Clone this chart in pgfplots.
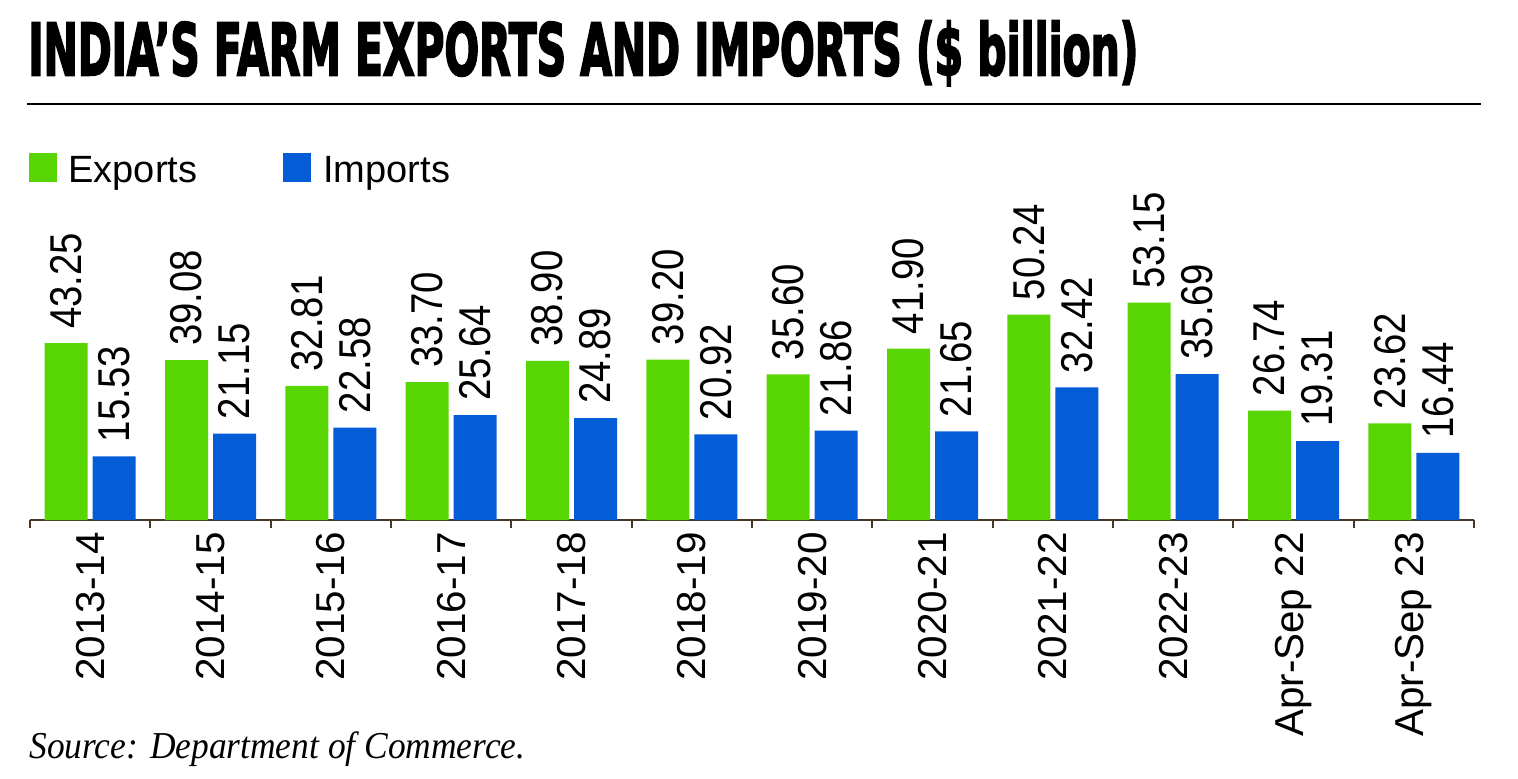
\documentclass[border=0pt]{standalone}
\usepackage{pgfplots}
\pgfplotsset{compat=1.18}
\usepackage{fontspec}
\usepackage{graphicx}
\setmainfont{Liberation Sans}
\newfontfamily\titlefont{DejaVu Sans}[BoldFeatures={FakeBold=3.5}]
\newfontfamily\lblfont{Liberation Sans}[FakeStretch=0.86]
\newfontfamily\srcfont{Liberation Serif}
\definecolor{exgreen}{RGB}{88,214,4}
\definecolor{imblue}{RGB}{4,92,214}
\definecolor{axisgray}{RGB}{70,55,40}
\pgfplotsset{/pgf/number format/assume math mode=true}
\begin{document}
\begin{tikzpicture}[x=1pt,y=1pt]
\useasboundingbox (0,0) rectangle (759,-389);
% title
\node[anchor=base west, inner sep=0pt] at (14,-37.5) {\resizebox{555pt}{\height}{\fontsize{35.7}{40}\selectfont\titlefont\bfseries INDIA’S FARM EXPORTS AND IMPORTS (\$ billion)}};
\draw[line width=1.3pt, black] (13.5,-52) -- (740.5,-52);
% legend
\fill[exgreen] (14.5,-76.5) rectangle (28.5,-91);
\node[anchor=base west, inner sep=0pt] at (34,-91) {\fontsize{19}{22}\selectfont Exports};
\fill[imblue] (141.5,-76.5) rectangle (155.5,-91);
\node[anchor=base west, inner sep=0pt] at (161.5,-91) {\fontsize{19}{22}\selectfont Imports};
% source
\node[anchor=base west, inner sep=0pt] at (14.5,-379) {\resizebox{248pt}{\height}{\fontsize{19}{22}\selectfont\srcfont\itshape Source: Department of Commerce.}};
\begin{axis}[
  at={(15pt,-260pt)}, anchor=south west,
  scale only axis, width=722pt, height=122.7pt,
  xmin=-0.5, xmax=11.5, ymin=0, ymax=60,
  axis x line*=bottom, axis y line=none,
  ybar, bar width=21.5pt,
  xtick={0,...,11},
  xticklabels={2013-14,2014-15,2015-16,2016-17,2017-18,2018-19,2019-20,2020-21,2021-22,2022-23,Apr-Sep 22,Apr-Sep 23},
  major tick length=0pt,
  minor xtick={-0.5,0.5,...,11.5}, minor tick length=4pt, tick align=outside,
  x tick label style={rotate=90, anchor=east, font=\fontsize{20.2}{21}\selectfont, inner sep=0pt},
  xticklabel shift=6pt,
  axis line style={line width=1pt, color=axisgray},
  every minor tick/.style={line width=1pt, color=axisgray},
  clip=false,
  nodes near coords={\pgfmathprintnumber[fixed,fixed zerofill,precision=2]{\pgfplotspointmeta}},
  every node near coord/.append style={rotate=90, anchor=west, inner xsep=7pt, inner ysep=0pt, text=black, font=\lblfont\fontsize{22.3}{24}\selectfont},
]
\addplot[fill=exgreen, draw=none, bar shift=-12pt] coordinates {
(0,43.25) (1,39.08) (2,32.81) (3,33.70) (4,38.90) (5,39.20) (6,35.60) (7,41.90) (8,50.24) (9,53.15) (10,26.74) (11,23.62)};
\addplot[fill=imblue, draw=none, bar shift=12pt] coordinates {
(0,15.53) (1,21.15) (2,22.58) (3,25.64) (4,24.89) (5,20.92) (6,21.86) (7,21.65) (8,32.42) (9,35.69) (10,19.31) (11,16.44)};
\end{axis}
\end{tikzpicture}
\end{document}
